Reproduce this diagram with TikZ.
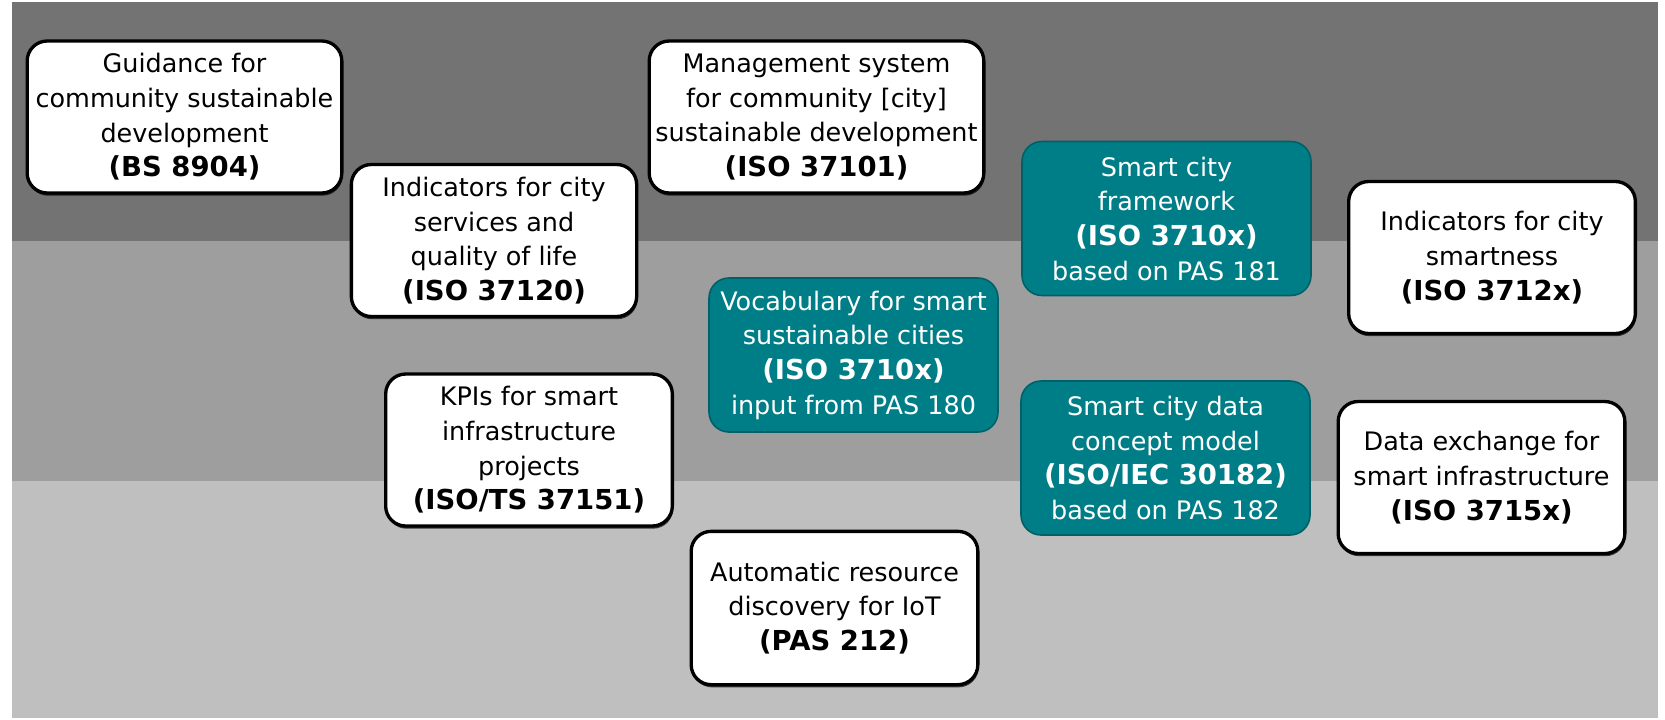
\documentclass[tikz,border=0pt]{standalone}
\usepackage{fontspec}
\setmainfont{DejaVu Sans}
\usetikzlibrary{shadows}
\definecolor{bandtop}{RGB}{115,115,115}
\definecolor{bandmid}{RGB}{158,158,158}
\definecolor{bandlow}{RGB}{191,191,191}
\definecolor{smartfill}{RGB}{0,126,135}
\definecolor{smartedge}{RGB}{0,96,103}
\newcommand\isoref[1]{{\fontsize{20.6pt}{26pt}\selectfont\bfseries #1}}
\tikzset{
  stdbox/.style={draw=black, line width=2.5pt, fill=white, rounded corners=15pt,
    align=center, inner sep=0pt, minimum width=215pt, minimum height=114pt,
    font=\fontsize{19.1pt}{26pt}\selectfont,
    drop shadow={shadow xshift=0.6pt, shadow yshift=-2pt, fill=black, opacity=0.7}},
  smartbox/.style={draw=smartedge, line width=1.2pt, fill=smartfill, text=white,
    rounded corners=15pt, align=center, inner sep=0pt,
    minimum width=216.75pt, minimum height=115.5pt,
    font=\fontsize{19.1pt}{26pt}\selectfont}
}
\begin{document}
\begin{tikzpicture}[x=0.75pt,y=-0.75pt]
      \useasboundingbox (0,0) rectangle (1665,719);
      % background bands
      \fill[bandtop] (12,2) rectangle (1658,241);
      \fill[bandmid] (12,241) rectangle (1658,481);
      \fill[bandlow] (12,481) rectangle (1658,718);
      \draw
        (184.5,117) node[stdbox, minimum width=236pt] (guidance)
          {Guidance for\\community sustainable\\development\\\isoref{(BS 8904)}}
        (816.5,117) node[stdbox, minimum width=251pt] (mgmt)
          {Management system\\for community [city]\\sustainable development\\\isoref{(ISO 37101)}}
        (494,240.5) node[stdbox, minimum width=214pt, minimum height=114pt] (services)
          {Indicators for city\\services and\\quality of life\\\isoref{(ISO 37120)}}
        (1492,257.5) node[stdbox] (smartness)
          {Indicators for city\\smartness\\\isoref{(ISO 3712x)}}
        (529,450) node[stdbox] (kpis)
          {KPIs for smart\\infrastructure\\projects\\\isoref{(ISO/TS 37151)}}
        (1481.5,477.5) node[stdbox] (exchange)
          {Data exchange for\\smart infrastructure\\\isoref{(ISO 3715x)}}
        (834.5,608) node[stdbox, minimum height=115pt] (iot)
          {Automatic resource\\discovery for IoT\\\isoref{(PAS 212)}};
      \draw
        (1166.5,218.5) node[smartbox] (framework)
          {Smart city\\framework\\\isoref{(ISO 3710x)}\\based on PAS 181}
        (853.5,355) node[smartbox] (vocabulary)
          {Vocabulary for smart\\sustainable cities\\\isoref{(ISO 3710x)}\\input from PAS 180}
        (1165.5,458) node[smartbox] (datamodel)
          {Smart city data\\concept model\\\isoref{(ISO/IEC 30182)}\\based on PAS 182};
    \end{tikzpicture}
\end{document}
